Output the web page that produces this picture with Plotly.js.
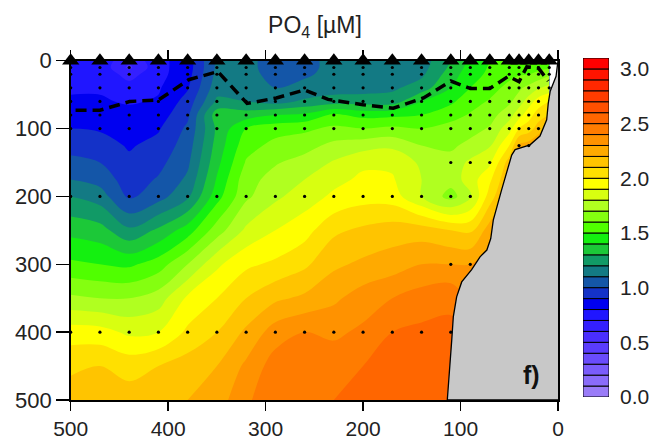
<!DOCTYPE html>
<html><head><meta charset="utf-8">
<script src="https://cdn.plot.ly/plotly-3.0.1.min.js"></script>
<style>html,body{margin:0;padding:0;background:#fff}#chart{width:652px;height:442px}</style>
</head><body><div id="chart"></div>
<script>
// Station positions along the section (km from coast)
const stationKm = [500,470,440,410,380,350,320,290,260,230,200,170,140,110,90,70,50,40,30,20,9];
// Depth levels of the gridded field (m)
const depthLevels = [0,10,20,40,60,80,100,125,150,175,200,250,300,350,400,450,500];
// PO4 (µM) for each station, top to bottom (same order as depthLevels)
const po4ByStation = [
  [0.78,0.78,0.78,0.79,0.81,0.85,0.90,0.96,1.03,1.10,1.20,1.37,1.52,1.72,1.95,2.08,2.15],
  [0.77,0.77,0.77,0.79,0.81,0.85,0.89,0.94,1.00,1.06,1.15,1.34,1.50,1.70,1.94,2.10,2.17],
  [0.62,0.58,0.66,0.74,0.79,0.83,0.86,0.89,0.92,0.95,0.98,1.22,1.48,1.70,1.88,2.06,2.15],
  [0.77,0.77,0.77,0.79,0.81,0.85,0.89,0.93,0.97,1.01,1.06,1.32,1.55,1.75,1.90,2.10,2.18],
  [0.85,0.85,0.86,0.89,0.94,0.98,1.02,1.05,1.08,1.12,1.18,1.45,1.70,1.92,2.02,2.15,2.20],
  [1.12,1.12,1.13,1.16,1.22,1.36,1.32,1.34,1.37,1.41,1.46,1.65,1.88,2.00,2.10,2.20,2.25],
  [1.12,1.12,1.12,1.14,1.20,1.35,1.50,1.56,1.61,1.66,1.68,1.82,1.98,2.10,2.22,2.32,2.38],
  [1.07,1.07,1.08,1.10,1.16,1.40,1.56,1.63,1.69,1.74,1.78,1.90,2.02,2.18,2.35,2.45,2.48],
  [1.08,1.08,1.09,1.12,1.22,1.42,1.58,1.66,1.74,1.80,1.85,1.96,2.08,2.22,2.40,2.48,2.50],
  [1.12,1.12,1.12,1.15,1.25,1.52,1.62,1.73,1.81,1.87,1.92,2.08,2.18,2.28,2.38,2.46,2.50],
  [1.13,1.13,1.14,1.16,1.25,1.47,1.60,1.76,1.88,1.92,1.96,2.12,2.22,2.35,2.42,2.50,2.52],
  [1.15,1.15,1.16,1.18,1.25,1.48,1.62,1.78,1.88,1.91,1.95,2.15,2.25,2.40,2.50,2.52,2.52],
  [1.15,1.16,1.18,1.25,1.40,1.50,1.60,1.70,1.78,1.80,1.80,2.15,2.30,2.45,2.52,2.52,2.52],
  [1.30,1.32,1.35,1.40,1.48,1.56,1.64,1.68,1.74,1.74,1.66,2.10,2.30,2.48,2.52,2.52,2.52],
  [1.42,1.44,1.46,1.50,1.56,1.61,1.66,1.73,1.82,1.85,1.78,2.08,2.30,2.40,2.50,2.52,2.52],
  [1.50,1.51,1.52,1.56,1.61,1.66,1.71,1.79,1.88,1.98,2.05,2.25,2.35,2.45,2.50,2.52,2.52],
  [1.54,1.55,1.57,1.63,1.68,1.76,1.86,2.00,2.15,2.20,2.25,2.32,2.40,2.45,2.50,2.52,2.52],
  [1.55,1.56,1.59,1.68,1.75,1.86,2.00,2.22,2.25,2.28,2.30,2.35,2.40,2.45,2.50,2.52,2.52],
  [1.54,1.56,1.60,1.73,1.85,1.96,2.05,2.25,2.28,2.30,2.32,2.35,2.40,2.45,2.50,2.52,2.52],
  [1.54,1.57,1.63,1.79,1.95,2.05,2.15,2.30,2.30,2.32,2.32,2.35,2.40,2.45,2.50,2.52,2.52],
  [1.54,1.58,1.68,1.84,2.00,2.10,2.20,2.30,2.30,2.32,2.32,2.35,2.40,2.45,2.50,2.52,2.52]
];
// Sampled depths at each station (dots)
const sampleDepths = [
  [10,20,40,60,80,100,200,400],[10,20,40,60,80,100,200,400],[10,20,40,60,80,100,200,400],
  [10,20,40,60,80,100,200,400],[10,20,40,60,80,100,200,400],[10,20,40,60,80,100,200,400],
  [10,20,40,60,80,100,200,400],[10,20,40,60,80,100,200,400],[10,20,40,60,80,100,200,400],
  [10,20,40,60,80,100,200,400],[10,20,40,60,80,100,200,400],[10,20,40,60,80,100,200,400],
  [10,20,40,60,80,100,200,400],[10,20,40,60,80,100,150,200,300,400],[10,20,40,60,80,100,150,200,300],
  [10,20,40,60,80,100,150],[10,20,40,60,80,100],[10,20,40,60,80,100,125],[10,20,40,60,80,100,125],
  [10,20,40,60,80,100],[10,20,40]
];
// Dashed line (mixed layer depth)
const mldKm    = [495,470,439,410,379,349,319,289,260,236,200,169,138,110,90,70,51,40,32,20,10];
const mldDepth = [73, 73, 60, 58, 28, 16, 63, 55, 43, 57, 65, 70, 55, 30, 41,41,23,31, 9,11,30];
// Bathymetry outline
const coastKm    = [0,2,8,10,11.6,15,18.5,28.7,39,44,47.5,51,58,66.4,69,73,80,88.6,98.8,104,107.4,109,111.5,113.6,0];
const coastDepth = [0,23,45,63,87,100,111,124,128,131,139,156,191,235,262,279,289,308,326,348,377,411,460,500,500];
// Colour levels (0.0 to 3.1 by 0.1)
const levelStart = 0, levelStep = 0.1;
const levelColors = [
  '#9a7cf8','#8a6cfa','#7a5cfb','#6a4cfc','#5a3cfd','#4a2efe','#3420ff','#2016ff','#0000f0','#1432c8',
  '#1456a8','#137a84','#119a66','#1cc838','#14f010','#50ff00','#84ff10','#b0ff20','#d8ff10','#ffff00',
  '#ffe000','#ffc400','#ffaa00','#ff9200','#ff7c00','#ff6600','#ff5000','#ff3c00','#ff2800','#ff1400','#ff0000'
];
const cbTickVals = [0,0.5,1.0,1.5,2.0,2.5,3.0];
const cbTickText = ['0.0','0.5','1.0','1.5','2.0','2.5','3.0'];
const xTicks = [500,400,300,200,100,0];
const yTicks = [0,100,200,300,400,500];

const nBands = levelColors.length;
const levelEnd = levelStart + nBands * levelStep;
const z = depthLevels.map((d, i) => po4ByStation.map(col => col[i]));

// stepped colorscale matching plotly's contour colour map (one slot per contour level)
const nSlots = nBands + 1;
const colorscale = [];
for (let k = 0; k <= nSlots; k++) {
  const c = levelColors[Math.min(Math.max(k - 1, 0), nBands - 1)];
  const lo = Math.max(0, (k - 0.5) / nSlots), hi = Math.min(1, (k + 0.5) / nSlots);
  colorscale.push([lo, c], [hi, c]);
}

const dotX = [], dotY = [];
stationKm.forEach((s, i) => sampleDepths[i].forEach(d => { dotX.push(s); dotY.push(d); }));

const W = 652, H = 442;
const plotL = 70.7, plotR = 558, plotT = 60.7, plotB = 400;
const cbL = 583, cbR = 609, cbT = 58, cbB = 397;
const font = 'Liberation Sans, Arial, sans-serif';

const traces = [
  {type: 'contour', x: stationKm, y: depthLevels, z: z, autocontour: false,
   contours: {start: levelStart, end: levelEnd, size: levelStep, coloring: 'fill', showlines: false},
   colorscale: colorscale, showscale: false, line: {width: 0, smoothing: 1}, hoverinfo: 'skip'},
  {type: 'scatter', x: coastKm, y: coastDepth, mode: 'lines', fill: 'toself', fillcolor: '#c8c8c8',
   line: {color: '#000', width: 1.3}, hoverinfo: 'skip'},
  {type: 'scatter', x: dotX, y: dotY, mode: 'markers', marker: {size: 3.2, color: '#000'}, hoverinfo: 'skip'},
  {type: 'scatter', x: mldKm, y: mldDepth, mode: 'lines', line: {color: '#000', width: 3.5, dash: '11px,6px'}, hoverinfo: 'skip'},
  {type: 'scatter', x: stationKm, y: stationKm.map(() => 0), mode: 'markers', cliponaxis: false,
   marker: {symbol: 'triangle-up', size: 15, color: '#000'}, hoverinfo: 'skip'},
  {type: 'bar', xaxis: 'x2', yaxis: 'y2', x: levelColors.map(() => 0), y: levelColors.map(() => levelStep),
   base: levelColors.map((c, i) => levelStart + i * levelStep), width: 1,
   marker: {color: levelColors, line: {color: '#000', width: 1}}, hoverinfo: 'skip'}
];

const layout = {
  width: W, height: H, margin: {l: 0, r: 0, t: 0, b: 0},
  paper_bgcolor: '#fff', plot_bgcolor: '#fff', showlegend: false, barmode: 'overlay',
  font: {family: font, color: '#222'},
  title: {text: 'PO<sub>4</sub> [µM]', x: 315 / W, xanchor: 'center', y: 1 - 25 / H, yanchor: 'middle',
          font: {family: font, size: 23, color: '#222'}},
  xaxis: {domain: [plotL / W, plotR / W], range: [500, 0], tickvals: xTicks, ticks: 'outside', ticklen: 9,
          tickwidth: 1.5, tickcolor: '#000', showline: true, linecolor: '#000', linewidth: 1.5, mirror: 'ticks',
          showgrid: false, zeroline: false, tickfont: {size: 21, color: '#222'}},
  yaxis: {domain: [1 - plotB / H, 1 - plotT / H], range: [500, 0], tickvals: yTicks, ticks: 'outside', ticklen: 13,
          tickwidth: 1.5, tickcolor: '#000', showline: true, linecolor: '#000', linewidth: 1.5, mirror: true,
          showgrid: false, zeroline: false, tickfont: {size: 22, color: '#222'}},
  xaxis2: {domain: [cbL / W, cbR / W], range: [-0.5, 0.5], visible: false, anchor: 'y2'},
  yaxis2: {domain: [1 - cbB / H, 1 - cbT / H], range: [levelStart, levelEnd], anchor: 'x2', side: 'right',
           tickvals: cbTickVals, ticktext: cbTickText, ticks: '', showline: false, showgrid: false, zeroline: false,
           ticklabelstandoff: 10, tickfont: {size: 21, color: '#222'}},
  annotations: [{text: '<b>f)</b>', xref: 'paper', yref: 'paper', x: 531 / W, y: 1 - 375 / H,
                 xanchor: 'center', yanchor: 'middle',
                 showarrow: false, font: {family: font, size: 25, color: '#111'}}]
};

Plotly.newPlot('chart', traces, layout, {staticPlot: true, displayModeBar: false});
</script>
</body></html>
